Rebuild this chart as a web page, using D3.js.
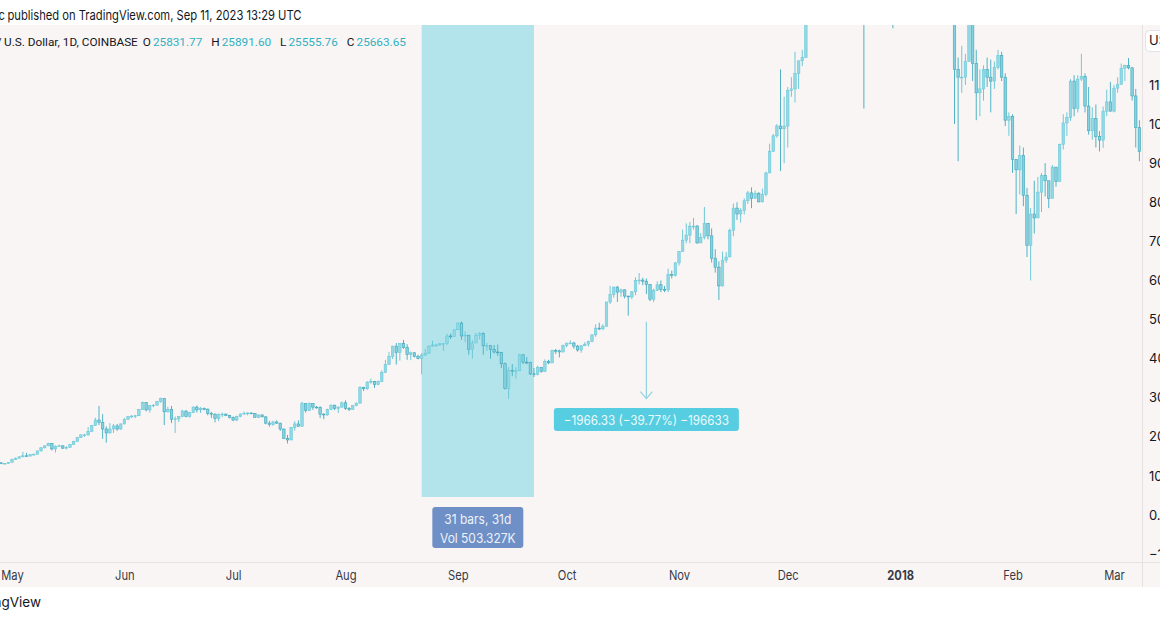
<!DOCTYPE html>
<html><head><meta charset="utf-8">
<script src="https://cdn.jsdelivr.net/npm/d3@7"></script>
<style>
html,body{margin:0;padding:0;background:#fff;}
svg{display:block;font-family:Inter,"Open Sans",sans-serif;}
</style></head><body>
<svg id="chart" width="1160" height="620"></svg>
<script>
// ---- data: daily OHLC [open, high, low, close], BTC/USD Coinbase ----
const firstDay = "2017-04-26";
const apr2017 = [[1280,1310,1275,1293],[1293,1340,1290,1335],[1335,1350,1300,1317],[1317,1330,1305,1321],[1321,1350,1315,1348]];
const may2017 = [[1348,1445,1346,1421],[1421,1472,1412,1452],[1452,1503,1447,1490],[1490,1615,1475,1515],[1515,1590,1490,1507],
 [1507,1550,1500,1545],[1545,1568,1525,1555],[1555,1645,1550,1640],[1640,1740,1620,1720],[1720,1775,1700,1770],
 [1770,1850,1760,1830],[1830,1840,1650,1690],[1690,1780,1600,1760],[1760,1800,1740,1770],[1770,1780,1690,1710],
 [1710,1760,1680,1730],[1730,1820,1720,1800],[1800,1900,1790,1880],[1880,1990,1870,1980],[1980,2060,1970,2050],
 [2050,2080,2000,2050],[2050,2250,2030,2140],[2140,2300,2130,2290],[2290,2490,2280,2430],[2430,2790,2300,2370],
 [2370,2580,1950,2200],[2200,2270,1850,2100],[2100,2350,2080,2200],[2200,2330,2100,2280],[2280,2330,2150,2200],[2200,2340,2180,2330]];
const jun2017 = [[2330,2480,2320,2450],[2450,2530,2430,2520],[2520,2560,2480,2530],[2530,2560,2480,2540],[2540,2710,2530,2700],
 [2700,2900,2690,2880],[2880,2890,2650,2690],[2690,2810,2620,2800],[2800,2840,2760,2810],[2810,2920,2800,2900],
 [2900,3000,2870,2980],[2980,2990,2300,2640],[2640,2770,2620,2700],[2700,2790,2350,2450],[2450,2520,2100,2460],
 [2460,2530,2380,2520],[2520,2690,2500,2660],[2660,2680,2500,2520],[2520,2640,2490,2620],[2620,2780,2610,2760],
 [2760,2800,2620,2690],[2690,2760,2610,2720],[2720,2750,2680,2710],[2710,2720,2550,2600],[2600,2640,2480,2580],
 [2580,2600,2370,2470],[2470,2590,2400,2580],[2580,2620,2500,2580],[2580,2600,2530,2550],[2550,2560,2470,2490]];
const jul2017 = [[2490,2520,2400,2430],[2430,2540,2400,2520],[2520,2600,2500,2580],[2580,2650,2570,2600],[2600,2630,2550,2610],
 [2610,2620,2580,2600],[2600,2610,2490,2500],[2500,2570,2480,2560],[2560,2570,2500,2510],[2510,2530,2320,2350],
 [2350,2410,2260,2310],[2310,2410,2280,2380],[2380,2420,2330,2350],[2350,2360,2150,2200],[2200,2210,1950,1960],
 [1960,2050,1830,1920],[1920,2250,1910,2240],[2240,2400,2160,2330],[2330,2420,2260,2270],[2270,2900,2260,2850],
 [2850,2850,2620,2670],[2670,2880,2660,2850],[2850,2860,2690,2760],[2760,2790,2720,2750],[2750,2780,2480,2580],
 [2580,2600,2450,2560],[2560,2720,2540,2700],[2700,2830,2690,2810],[2810,2820,2680,2730],[2730,2780,2610,2760],[2760,2900,2750,2870]];
const aug2017 = [[2870,2930,2690,2730],[2730,2760,2660,2700],[2700,2810,2700,2800],[2800,2880,2780,2860],[2860,3300,2860,3260],
 [3260,3280,3170,3230],[3230,3420,3200,3400],[3400,3490,3360,3420],[3420,3430,3250,3340],[3340,3440,3320,3420],
 [3420,3700,3400,3650],[3650,3970,3630,3850],[3850,4170,3850,4060],[4060,4330,3990,4320],[4320,4400,3850,4160],
 [4160,4400,3950,4390],[4390,4480,4250,4280],[4280,4370,3970,4110],[4110,4180,3960,4150],[4150,4170,4030,4060],
 [4060,4100,3980,4000],[4000,4140,3600,4090],[4090,4250,4070,4140],[4140,4340,4120,4320],[4320,4460,4300,4350],
 [4350,4380,4300,4350],[4350,4400,4330,4380],[4380,4400,4200,4390],[4390,4630,4350,4580],[4580,4640,4500,4570],[4570,4750,4560,4740]];
const sep2017 = [[4740,4920,4730,4910],[4910,4950,4480,4580],[4580,4700,4420,4600],[4600,4600,4100,4240],[4240,4470,4000,4400],
 [4400,4660,4400,4600],[4600,4680,4490,4640],[4640,4670,4100,4330],[4330,4400,4200,4330],[4330,4340,4000,4230],
 [4230,4350,4130,4170],[4170,4360,4070,4160],[4160,4170,3760,3870],[3870,3900,3210,3240],[3240,3780,2970,3700],
 [3700,3860,3550,3690],[3690,3780,3490,3690],[3690,4120,3690,4100],[4100,4110,3860,3910],[3910,4040,3860,3900],
 [3900,3920,3580,3610],[3610,3760,3530,3600],[3600,3820,3570,3780],[3780,3780,3640,3670],[3670,3980,3660,3930],
 [3930,3970,3860,3890],[3890,4230,3890,4210],[4210,4250,4120,4200],[4200,4230,4030,4170],[4170,4360,4160,4340]];
const oct2017 = [[4340,4400,4290,4400],[4400,4470,4370,4400],[4400,4430,4250,4320],[4320,4350,4180,4220],[4220,4350,4150,4330],
 [4330,4420,4320,4370],[4370,4460,4310,4440],[4440,4620,4420,4610],[4610,4880,4560,4780],[4780,4920,4730,4760],
 [4760,4880,4730,4830],[4830,5450,4820,5450],[5450,5860,5400,5640],[5640,5840,5560,5830],[5830,5860,5450,5700],
 [5700,5790,5580,5760],[5760,5770,5540,5600],[5600,5610,5100,5580],[5580,5730,5520,5710],[5710,6080,5620,6000],
 [6000,6190,5900,6010],[6010,6070,5880,5980],[5980,6050,5650,5900],[5900,5900,5470,5520],[5520,5790,5450,5750],
 [5750,5980,5730,5890],[5890,6000,5700,5770],[5770,5860,5700,5760],[5760,6300,5700,6150],[6150,6250,6050,6130],[6130,6470,6100,6450]];
const nov2017 = [[6450,6750,6380,6740],[6740,7300,6740,7030],[7030,7460,6950,7160],[7160,7500,6950,7390],[7390,7600,7300,7390],
 [7390,7420,6940,6960],[6960,7210,6960,7100],[7100,7880,7050,7460],[7460,7470,7050,7140],[7140,7330,6460,6570],
 [6570,6800,6200,6340],[6340,6490,5500,5860],[5860,6740,5850,6520],[6520,6730,6450,6600],[6600,7330,6600,7280],
 [7280,7970,7130,7850],[7850,8000,7550,7700],[7700,7850,7480,7790],[7790,8100,7690,8040],[8040,8290,7960,8240],
 [8240,8380,7850,8100],[8100,8300,8100,8230],[8230,8260,8000,8010],[8010,8350,8000,8200],[8200,8780,8150,8750],
 [8750,9500,8750,9300],[9300,9750,9300,9700],[9700,10000,9650,9950],[9950,11400,8800,9880],[9880,10700,9000,9950]];
const dec2017 = [[9950,10950,9400,10860],[10860,11200,10700,10900],[10900,11850,10550,11290],[11290,11620,10900,11620],[11620,11900,11480,11700],
 [11700,13850,11700,13650],[13650,16900,13500,16800],[16800,17200,13500,16100],[16100,16300,13700,14900],[14900,15750,13000,15100],
 [15100,17400,15000,16700],[16700,17600,16250,17400],[17400,17500,15900,16400],[16400,16900,16000,16600],[16600,17900,16400,17700],
 [17700,19700,17500,19600],[19600,19900,18800,19000],[19000,19200,17900,18900],[18900,18950,16300,17600],[17600,17900,15500,16400],
 [16400,17300,14800,15600],[15600,15800,10400,13800],[13800,15500,13700,14600],[14600,14700,12900,13900],[13900,14500,13500,13900],
 [13900,16000,13750,15800],[15800,16500,14500,15400],[15400,15500,13500,14400],[14400,15100,13900,14400],[14400,14500,12450,12600],[12600,14300,12550,14200]];
const jan2018 = [[14200,14250,12750,13450],[13450,15500,12900,14750],[14750,15400,14600,15100],[15100,15400,14000,15150],[15150,17150,14800,16900],
 [16900,17250,16200,17150],[17150,17150,15800,16200],[16200,16300,13900,14950],[14950,15400,14200,14400],[14400,14900,13100,14900],
 [14900,14950,12800,13300],[13300,14100,12800,13800],[13800,14450,13800,14200],[14200,14300,13000,13600],[13600,14300,13400,13600],
 [13600,13600,10000,11400],[11400,11700,9050,11200],[11200,12000,10800,11200],[11200,11800,11000,11600],[11600,13000,11600,12800],
 [12800,12800,11100,11550],[11550,11900,10100,10800],[10800,11400,10200,10900],[10900,11500,10600,11400],[11400,11700,10950,11200],
 [11200,11650,10300,11100],[11100,11600,10900,11450],[11450,11900,11400,11750],[11750,11850,11100,11200],[11200,11300,9950,10100],[10100,10300,9700,10200]];
const feb2018 = [[10200,10250,8750,9100],[9100,9100,7700,8830],[8830,9450,8200,9200],[9200,9400,7900,8180],[8180,8370,6600,6900],
 [6900,7850,6000,7700],[7700,8550,7200,7600],[7600,8650,7600,8260],[8260,8750,7750,8680],[8680,9000,8150,8550],
 [8550,8550,7850,8100],[8100,8950,8100,8900],[8900,8900,8400,8530],[8530,9500,8530,9480],[9480,10250,9350,10030],
 [10030,10300,9700,10170],[10170,11150,10080,11100],[11100,11250,10200,10400],[10400,11250,10300,11150],[11150,11800,11100,11220],
 [11220,11300,10300,10460],[10460,10950,9730,9830],[9830,10430,9600,10140],[10140,10500,9400,9680],[9680,9820,9300,9590],
 [9590,10450,9390,10330],[10330,10880,10200,10570],[10570,11080,10320,10330]];
const mar2018 = [[10330,11000,10300,10920],[10920,11200,10800,11020],[11020,11550,11000,11430],[11430,11520,11100,11500],
 [11500,11690,11400,11440],[11440,11450,10600,10720],[10720,10900,9400,9910],[9910,10100,9050,9300]];

const monthTicks = ["2017-05-01","2017-06-01","2017-07-01","2017-08-01","2017-09-01","2017-10-01","2017-11-01","2017-12-01","2018-01-01","2018-02-01","2018-03-01"];
const monthLabels = ["May","Jun","Jul","Aug","Sep","Oct","Nov","Dec","2018","Feb","Mar"];
const priceTicks = [-1000,0,1000,2000,3000,4000,5000,6000,7000,8000,9000,10000,11000];

const rangeStart = "2017-08-22", rangeEnd = "2017-09-22";
const rangeInfo = ["31 bars, 31d", "Vol 503.327K"];
const measureDate = "2017-10-23", measureFrom = 4944.30, measureTo = 2977.97;
const measureLabel = "\u22121966.33 (\u221239.77%) \u2212196633";
const titleText = "published on TradingView.com, Sep 11, 2023 13:29 UTC";
const symbolText = "U.S. Dollar, 1D, COINBASE";
const ohlcLegend = [["O","25831.77"],["H","25891.60"],["L","25555.76"],["C","25663.65"]];

// ---- build ----
const parse = d3.utcParse("%Y-%m-%d");
const allBars = [].concat(apr2017, may2017, jun2017, jul2017, aug2017, sep2017, oct2017, nov2017, dec2017, jan2018, feb2018, mar2018);
const start = parse(firstDay);
const bars = allBars.map((b,i)=>({date:d3.utcDay.offset(start,i), o:b[0], h:b[1], l:b[2], c:b[3]}));

const W=1160, H=620, plotTop=25, plotBottom=562, axisBottom=587, plotRight=1142;
const bg="#faf5f5", textCol="#131722";
const SX = 0.86; // horizontal squeeze of the screenshot's lettering

const x = d3.scaleUtc().domain([parse("2017-05-01"), parse("2018-03-01")]).range([12, 1114]);
const y = d3.scaleLinear().domain([0, 11000]).range([515, 85]);

function squeeze(sel, f){
  sel.each(function(){
    const w = this.getComputedTextLength();
    d3.select(this).attr("textLength", w*f).attr("lengthAdjust","spacingAndGlyphs");
  });
  return sel;
}

const svg = d3.select("#chart");
svg.append("rect").attr("width",W).attr("height",H).attr("fill","#fff");
svg.append("rect").attr("x",0).attr("y",plotTop).attr("width",W).attr("height",axisBottom-plotTop).attr("fill",bg);

svg.append("defs").append("clipPath").attr("id","plotclip")
  .append("rect").attr("x",0).attr("y",plotTop).attr("width",plotRight).attr("height",plotBottom-plotTop);

const plot = svg.append("g").attr("clip-path","url(#plotclip)");

// date range shading
const rs = x(parse(rangeStart)), re = x(parse(rangeEnd));
plot.append("rect").attr("x",rs).attr("y",plotTop).attr("width",re-rs).attr("height",497-plotTop).attr("fill","#b3e4ec");

// candles
const bw = 2.5;
const cg = plot.append("g");
const candle = cg.selectAll("g.c").data(bars).join("g").attr("class","c");
candle.append("line")
  .attr("x1",d=>x(d.date)).attr("x2",d=>x(d.date))
  .attr("y1",d=>y(d.h)).attr("y2",d=>y(d.l))
  .attr("stroke",d=>d.c>=d.o?"#6cc9d8":"#4fb3c4").attr("stroke-width",1);
candle.append("rect")
  .attr("x",d=>x(d.date)-bw/2).attr("width",bw)
  .attr("y",d=>y(Math.max(d.o,d.c)))
  .attr("height",d=>Math.max(0.8,Math.abs(y(d.o)-y(d.c))))
  .attr("fill",d=>d.c>=d.o?"#92d9e6":"#84d1df")
  .attr("stroke",d=>d.c>=d.o?"#6cc9d8":"#3fa6b8").attr("stroke-width",0.6);

// measure arrow
const mx = x(parse(measureDate));
const ay1 = y(measureFrom), ay2 = y(measureTo);
const ann = svg.append("g");
ann.append("line").attr("x1",mx).attr("x2",mx).attr("y1",ay1).attr("y2",ay2).attr("stroke","#8fd3df").attr("stroke-width",1.2);
ann.append("path").attr("d",`M${mx-6},${ay2-7}L${mx},${ay2}L${mx+6},${ay2-7}`).attr("fill","none").attr("stroke","#8fd3df").attr("stroke-width",1.2);
ann.append("rect").attr("x",mx-92.5).attr("y",408).attr("width",185).attr("height",23).attr("rx",3).attr("fill","#56cde0");
squeeze(ann.append("text").attr("x",mx).attr("y",424.5).attr("text-anchor","middle").attr("font-size",13).attr("fill","#eefafc").text(measureLabel), 0.9);

// range info box
const rc = (rs+re)/2;
ann.append("rect").attr("x",rc-45.5).attr("y",507).attr("width",91).attr("height",41).attr("rx",3).attr("fill","#6e90c6");
squeeze(ann.selectAll("text.ri").data(rangeInfo).join("text").attr("class","ri")
  .attr("x",rc).attr("y",(d,i)=>523.5+i*19).attr("text-anchor","middle").attr("font-size",13).attr("fill","#eef2fa").text(d=>d), 0.92);

// separators
svg.append("line").attr("x1",0).attr("x2",W).attr("y1",plotBottom+0.5).attr("y2",plotBottom+0.5).attr("stroke","#e7e1e2");
svg.append("line").attr("x1",plotRight+0.5).attr("x2",plotRight+0.5).attr("y1",plotTop).attr("y2",axisBottom).attr("stroke","#e7e1e2");

// y axis
const fmt = v => (v<0?"\u2212":"") + d3.format(".2f")(Math.abs(v));
const yAxis = svg.append("g").attr("transform",`translate(${plotRight},0)`)
  .call(d3.axisRight(y).tickValues(priceTicks).tickSize(0).tickPadding(7).tickFormat(fmt));
yAxis.select(".domain").remove();
yAxis.selectAll("text").attr("font-size",13).attr("fill",textCol).attr("font-family","Inter, sans-serif");

// x axis
const xAxis = svg.append("g").attr("transform",`translate(0,${plotBottom})`)
  .call(d3.axisBottom(x).tickValues(monthTicks.map(parse)).tickSize(0).tickFormat((d,i)=>monthLabels[i]));
xAxis.select(".domain").remove();
squeeze(xAxis.selectAll("text").attr("y",17.5).attr("dy",null).attr("font-size",13).attr("fill","#363a45")
  .attr("font-family","Inter, sans-serif")
  .attr("font-weight",(d,i)=>monthLabels[i]==="2018"?"700":"400"), SX);

// currency box
svg.append("rect").attr("x",1145.5).attr("y",30.5).attr("width",40).attr("height",21).attr("rx",4).attr("fill","#fff").attr("stroke","#e0e3eb");
svg.append("text").attr("x",1149).attr("y",45).attr("font-size",13).attr("fill",textCol).text("USD");

// header: squeezed like the screenshot
const FS = 13.5;
const title = svg.append("text").attr("x",7.5).attr("y",19.5).attr("font-size",FS).attr("fill",textCol).text(titleText);
const natW = title.node().getComputedTextLength();
const hs = 294/natW;
title.attr("textLength",294).attr("lengthAdjust","spacingAndGlyphs");
squeeze(svg.append("text").attr("x",5).attr("y",19.5).attr("text-anchor","end").attr("font-size",FS).attr("fill",textCol).text("c"), hs);

// symbol + OHLC legend: narrow font sized to the reference widths, laid out left to right
const legFont = "Roboto, sans-serif";
const leg = svg.append("g").attr("font-family",legFont);
const symT = leg.append("text").attr("x",4).attr("y",45.5).attr("font-size",13).attr("fill",textCol).text(symbolText);
const lfs = 13*134/symT.node().getComputedTextLength();
symT.attr("font-size",lfs);
leg.append("text").attr("x",1.5).attr("y",45.5).attr("text-anchor","end").attr("font-size",lfs).attr("fill",textCol).text("/");
let cx = 4 + symT.node().getComputedTextLength() + 5;
ohlcLegend.forEach(([k,v])=>{
  const t1 = leg.append("text").attr("x",cx).attr("y",45.5).attr("font-size",lfs).attr("fill",textCol).text(k);
  cx += t1.node().getComputedTextLength() + 2;
  const t2 = leg.append("text").attr("x",cx).attr("y",45.5).attr("font-size",lfs).attr("fill","#2fb1c1").text(v);
  cx += t2.node().getComputedTextLength() + 9;
});

// footer
svg.append("text").attr("x",41).attr("y",607).attr("text-anchor","end").attr("font-size",13.5).attr("fill",textCol).text("TradingView");
</script>
</body></html>
